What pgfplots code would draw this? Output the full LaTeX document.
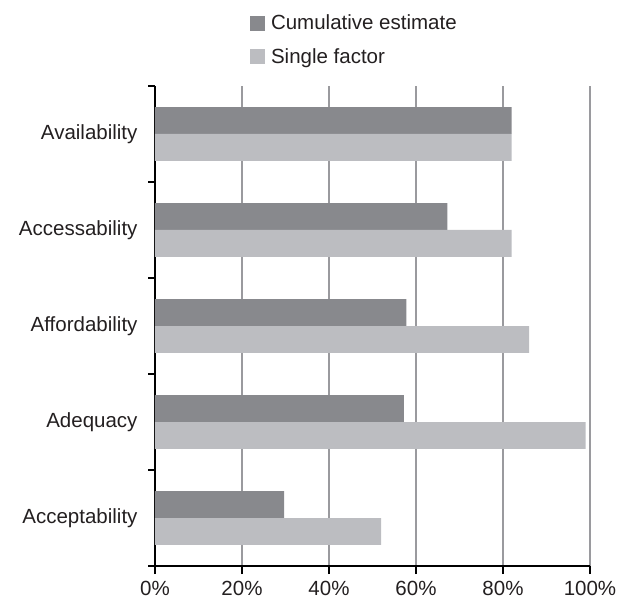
\documentclass[border=0pt]{standalone}
\usepackage{fontspec}
\setmainfont{Liberation Sans}
\usepackage{pgfplots}
\pgfplotsset{compat=1.18}
\definecolor{cumul}{HTML}{88898D}
\definecolor{single}{HTML}{BCBDC1}
\definecolor{gridgray}{HTML}{9A9A9E}
\definecolor{txt}{HTML}{231F20}
\newcommand{\lblfont}{\fontsize{20.5}{24}\selectfont}

\begin{document}
\begin{tikzpicture}
\begin{axis}[
  name=ax,
  width=435pt, height=480pt, scale only axis,
  xmin=0, xmax=100, ymin=-0.5, ymax=4.5,
  axis x line*=bottom, axis y line*=left,
  axis line style={-, line width=1.2pt, black},
  xtick={0,20,...,100},
  xticklabel={\pgfmathprintnumber{\tick}\%},
  ytick={0,1,2,3,4},
  yticklabels={Acceptability,Adequacy,Affordability,Accessability,Availability},
  minor ytick={-0.5,0.5,...,4.5},
  tick align=outside,
  major tick length=8pt, minor tick length=7pt,
  major y tick style={draw=none},
  minor y tick style={line width=1.2pt, black},
  major x tick style={line width=1.2pt, black},
  xmajorgrids, major x grid style={gridgray, line width=1.3pt},
  /pgf/number format/assume math mode=true,
  tick label style={font=\lblfont, text=txt},
  yticklabel style={xshift=-6pt},
  xticklabel style={yshift=-4pt},
  legend style={at={(0.218,1)}, anchor=south west, yshift=19pt,
    draw=none, fill=none, inner sep=0pt, row sep=13pt,
    font=\lblfont, text=txt, cells={anchor=west},
    /tikz/every odd column/.append style={column sep=4pt}},
  legend image code/.code={\fill[#1] (0pt,-7.5pt) rectangle (15pt,7.5pt);},
]
\addplot[xbar, bar width=0.28, bar shift=0.14, fill=cumul, draw=none]
  coordinates {(29.7,0) (57.2,1) (57.8,2) (67.2,3) (82,4)};
\addlegendentry{Cumulative estimate}
\addplot[xbar, bar width=0.28, bar shift=-0.14, fill=single, draw=none]
  coordinates {(52,0) (99,1) (86,2) (82,3) (82,4)};
\addlegendentry{Single factor}
\end{axis}
% page frame with the white margins around the chart
\path[use as bounding box] (ax.south west) ++(-155pt,-36pt) rectangle ++(628pt,602pt);
\end{tikzpicture}
\end{document}
